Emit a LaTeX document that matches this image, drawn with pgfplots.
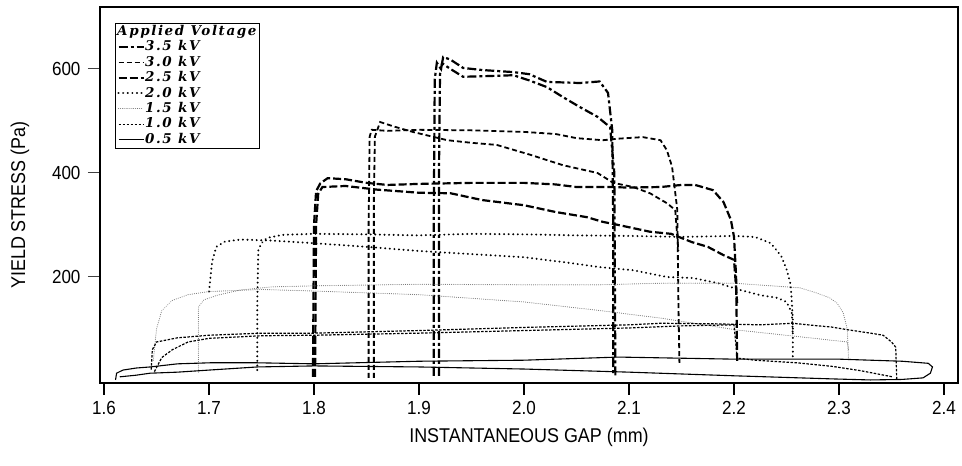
\documentclass[border=0pt]{standalone}
\usepackage{pgfplots}
\pgfplotsset{compat=1.18}
\usepackage{fontspec}
\setmainfont{Liberation Sans}[FakeStretch=0.9]
\newfontfamily\legfont{DejaVu Serif}[LetterSpace=12]
\begin{document}
\begin{tikzpicture}
\tikzset{
 v35/.style={black, line width=2.2bp, dash pattern=on 9bp off 3bp on 3bp off 3bp},
 v30/.style={black, line width=1.8bp, dash pattern=on 5bp off 3bp},
 v25/.style={black, line width=2.2bp, dash pattern=on 8bp off 3bp},
 v20/.style={black, line width=2.1bp, line cap=round, dash pattern=on 0.1bp off 4.5bp},
 v15/.style={black!55, line width=1bp, line cap=round, dash pattern=on 0.1bp off 2bp},
 v10/.style={black, line width=1.2bp, dash pattern=on 2.5bp off 1.5bp},
 v05/.style={black, line width=1.1bp},
}
\begin{axis}[
 scale only axis, width=858bp, height=376bp,
 xmin=1.5962, xmax=2.4133, ymin=-3.85, ymax=719.2,
 axis line style={line width=1.8bp},
 tick align=outside,
 xtick={1.6,1.7,1.8,1.9,2.0,2.1,2.2,2.3,2.4},
 xticklabels={1.6,1.7,1.8,1.9,2.0,2.1,2.2,2.3,2.4},
 ytick={200,400,600}, yticklabels={200,400,600},
 xtick pos=bottom, ytick pos=left,
 major tick length=12bp,
 x tick style={line width=1.8bp, black},
 y tick style={line width=1bp, black!75},
 ticklabel style={font=\fontsize{19}{19}\selectfont},
 xticklabel style={yshift=-3bp},
 yticklabel style={xshift=-4bp},
 xlabel={INSTANTANEOUS GAP (mm)},
 ylabel={YIELD STRESS (Pa)},
 label style={font=\fontsize{20}{20}\selectfont},
 xlabel style={at={(axis description cs:0.5,-0.1436)}, anchor=center},
 ylabel style={at={(axis description cs:-0.0932,0.473)}, anchor=center},
 legend cell align=left,
 legend image code/.code={\draw[#1] (0bp,0bp) -- (25bp,0bp);},
 legend style={at={(rel axis cs:0.0175,0.9574)}, anchor=north west,
   draw=black, line width=0.8bp, inner xsep=2bp, inner ysep=1.5bp,
   font=\legfont\bfseries\itshape\fontsize{13.5}{14}\selectfont,
   nodes={inner sep=0.6bp, text height=10bp, text depth=2.5bp},
   row sep=1.7bp},
]
\addlegendimage{empty legend}
\addlegendentry{\hspace{-28bp}Applied Voltage}

% 3.5 kV
\addplot[v35] coordinates {(1.914,10) (1.914,300) (1.915,580) (1.917,612) (1.921,600) (1.923,623) (1.93,618) (1.942,602) (1.96,598) (1.99,594) (2.005,590) (2.022,575) (2.04,574) (2.053,573) (2.072,576) (2.08,554) (2.084,483) (2.085,300) (2.085,10)};
\addlegendentry{3.5 kV}
\addplot[v35, forget plot] coordinates {(1.919,10) (1.919,400) (1.92,590) (1.922,611) (1.93,600) (1.942,585) (1.96,586) (1.99,588) (2.005,578) (2.022,565) (2.037,546) (2.053,527) (2.07,508) (2.082,488) (2.086,400) (2.087,10)};

% 3.0 kV
\addplot[v30] coordinates {(1.852,6) (1.852,300) (1.853,470) (1.855,483) (1.87,481) (1.9,483) (1.95,482) (2.0,479) (2.03,475) (2.05,467) (2.075,463) (2.09,466) (2.113,469) (2.13,463) (2.136,444) (2.141,412) (2.146,329) (2.147,156) (2.148,35)};
\addlegendentry{3.0 kV}
\addplot[v30, forget plot] coordinates {(1.857,6) (1.857,350) (1.858,470) (1.863,498) (1.875,490) (1.894,479) (1.927,463) (1.95,458) (1.974,454) (2.006,435) (2.037,415) (2.07,400) (2.085,381) (2.104,373) (2.12,361) (2.136,342) (2.144,329) (2.147,250)};

% 2.5 kV
\addplot[v25] coordinates {(1.799,8) (1.800,300) (1.802,365) (1.806,380) (1.813,390) (1.83,388) (1.85,381) (1.87,377) (1.9,379) (1.95,381) (2.0,381) (2.03,378) (2.05,373) (2.08,373) (2.1,372) (2.13,373) (2.15,377) (2.163,377) (2.18,367) (2.19,344) (2.197,310) (2.2,277) (2.202,200) (2.203,35)};
\addlegendentry{2.5 kV}
\addplot[v25, forget plot] coordinates {(1.801,8) (1.802,300) (1.804,360) (1.808,373) (1.83,375) (1.86,368) (1.9,362) (1.93,361) (1.96,348) (2.0,338) (2.03,325) (2.06,315) (2.075,306) (2.09,300) (2.12,287) (2.14,283) (2.16,267) (2.175,258) (2.19,242) (2.2,233) (2.203,150)};

% 2.0 kV
\addplot[v20] coordinates {(1.746,21) (1.746,150) (1.747,252) (1.75,265) (1.755,275) (1.77,281) (1.8,283) (1.85,282) (1.9,280) (1.95,283) (2.0,282) (2.05,280) (2.1,279) (2.15,277) (2.2,279) (2.22,277) (2.235,265) (2.245,240) (2.25,215) (2.254,185) (2.256,120) (2.256,40)};
\addlegendentry{2.0 kV}
\addplot[v20, forget plot] coordinates {(1.700,172) (1.703,230) (1.707,258) (1.715,268) (1.73,272) (1.76,270) (1.8,265) (1.85,258) (1.9,250) (1.95,244) (2.0,238) (2.04,228) (2.072,219) (2.104,213) (2.136,200) (2.161,198) (2.185,188) (2.206,175) (2.225,165) (2.241,160) (2.25,152) (2.255,131) (2.256,90)};

% 1.5 kV
\addplot[v15] coordinates {(1.690,17) (1.690,100) (1.690,142) (1.695,156) (1.708,165) (1.73,175) (1.76,181) (1.8,183) (1.9,186) (2.0,185) (2.072,185) (2.13,188) (2.2,188) (2.25,181) (2.263,179) (2.279,169) (2.291,160) (2.298,150) (2.304,131) (2.308,98) (2.309,40)};
\addlegendentry{1.5 kV}
\addplot[v15, forget plot] coordinates {(1.647,40) (1.650,100) (1.655,135) (1.665,155) (1.68,166) (1.70,172) (1.75,176) (1.8,173) (1.9,166) (2.0,152) (2.07,136) (2.13,121) (2.203,98) (2.263,85) (2.308,75) (2.309,60)};

% 1.0 kV
\addplot[v10] coordinates {(1.645,22) (1.646,60) (1.65,75) (1.67,83) (1.70,88) (1.75,92) (1.8,92) (1.9,97) (2.0,103) (2.1,108) (2.13,111) (2.18,110) (2.225,108) (2.256,111) (2.28,106) (2.292,104) (2.31,98) (2.33,92) (2.342,88) (2.35,75) (2.354,65) (2.355,2)};
\addlegendentry{1.0 kV}
\addplot[v10, forget plot] coordinates {(1.648,18) (1.655,45) (1.665,60) (1.68,75) (1.70,82) (1.75,87) (1.8,88) (1.9,92) (2.0,97) (2.1,102) (2.15,106) (2.2,108) (2.203,44) (2.22,40) (2.26,35) (2.294,28) (2.32,20) (2.351,8)};

% 0.5 kV
\addplot[v05] coordinates {(1.611,2) (1.612,15) (1.618,21) (1.631,25) (1.644,27) (1.670,33) (1.701,35) (1.746,35) (1.8,33) (1.9,38) (2.0,40) (2.09,46) (2.2,42) (2.3,42) (2.36,38) (2.385,34) (2.389,27) (2.387,15) (2.38,6) (2.36,3) (2.33,2) (2.294,4) (2.2,10) (2.1,17) (2.0,23) (1.9,27) (1.8,29) (1.746,27) (1.7,21) (1.67,17) (1.644,15) (1.63,11) (1.615,8)};
\addlegendentry{0.5 kV}
\end{axis}
\pgfresetboundingbox
\path (current axis.south west) ++(-100bp,-83bp) rectangle ([shift={(4bp,7bp)}]current axis.north east);
\end{tikzpicture}
\end{document}
